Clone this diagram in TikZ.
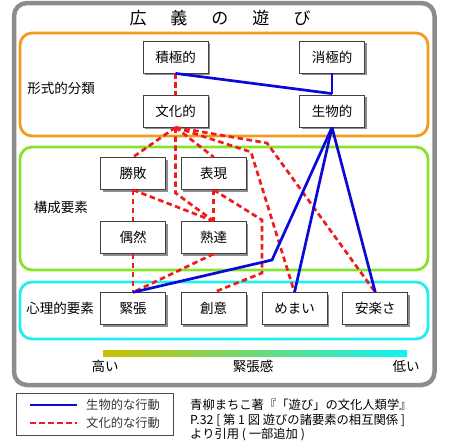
\documentclass[tikz,border=0pt]{standalone}
\usepackage{fontspec}
\setmainfont{Noto Sans CJK JP}
\usetikzlibrary{shadows}
\definecolor{framegray}{HTML}{8C8C8C}
\definecolor{boxorange}{HTML}{F29B1D}
\definecolor{boxgreen}{HTML}{84E32A}
\definecolor{boxcyan}{HTML}{22EEF0}
\definecolor{bioblue}{HTML}{0A0AD8}
\definecolor{culred}{HTML}{EE1C1C}
\definecolor{gradleft}{HTML}{C8C000}
\definecolor{gradright}{HTML}{10F4F4}
\begin{document}
\begin{tikzpicture}[x=1pt,y=-1pt,
  box/.style={draw=black!75, line width=0.8pt, fill=white, minimum width=65pt, minimum height=32pt, inner sep=0pt,
    font=\fontsize{13.5}{15}\selectfont,
    drop shadow={shadow xshift=2pt, shadow yshift=-2pt, fill=black, opacity=0.45}},
  bio/.style={draw=bioblue, line width=2.7pt},
  cul/.style={draw=culred, line width=2.7pt, dash pattern=on 5.5pt off 3.5pt},
  lab/.style={font=\fontsize{13.5}{15}\selectfont, inner sep=0pt},
  small/.style={font=\fontsize{12.3}{14.5}\selectfont, inner sep=0pt},
  group/.style={line width=2.8pt, rounded corners=12pt}
]
\useasboundingbox (0,0) rectangle (450,442);
% frames
\draw[draw=framegray, line width=4.5pt, rounded corners=13pt] (14,3) rectangle (434.5,385);
\draw[group, draw=boxorange] (20,33) rectangle (428,136);
\draw[group, draw=boxgreen] (20,147) rectangle (428,270);
\draw[group, draw=boxcyan] (20,282) rectangle (428,339);
% title
\node[inner sep=0pt, font=\fontsize{17}{20}\selectfont] (title) at (220,18) {広\hspace{24pt}義\hspace{24pt}の\hspace{24pt}遊\hspace{24pt}び};
% group labels
\node[lab] (l1) at (61,88) {形式的分類};
\node[lab] (l2) at (61,207) {構成要素};
\node[lab] (l3) at (60,308) {心理的要素};
% nodes
\node[box] (sek) at (175.5,57) {積極的};
\node[box] (sho) at (332,57) {消極的};
\node[box] (bun) at (175.5,111) {文化的};
\node[box] (sei) at (332,111) {生物的};
\node[box] (sho2) at (133,173.5) {勝敗};
\node[box] (hyo) at (213.7,173.5) {表現};
\node[box] (gu) at (133,237.5) {偶然};
\node[box] (juku) at (213.7,237.5) {熟達};
\node[box] (kin) at (133,308.7) {緊張};
\node[box] (so) at (213.7,308.7) {創意};
\node[box] (me) at (294.5,308.7) {めまい};
\node[box] (an) at (375.3,308.7) {安楽さ};
% bend coordinates
\coordinate (c1) at (175.5,193);
\coordinate (c2) at (251,152);
\coordinate (c3) at (267,143);
\coordinate (c4) at (262,220);
\coordinate (c5) at (262,273);
\coordinate (b1) at (272,260);
% cultural (red dashed)
\draw[cul] (sek.south) -- (bun.north);
\draw[cul] (bun.south) -- (sho2.north);
\draw[cul] (bun.south) -- (c1) -- (juku.north);
\draw[cul] (bun.south) -- (hyo.north);
\draw[cul] (bun.south) -- (c2) -- (me.north);
\draw[cul] (bun.south) -- (c3) -- (an.north);
\draw[cul] (sho2.south) -- (gu.north);
\draw[cul] (sho2.south) -- (juku.north);
\draw[cul] (hyo.south) -- (juku.north);
\draw[cul] (hyo.south) -- (c4) -- (c5) -- (so.north);
\draw[cul] (gu.south) -- (kin.north);
\draw[cul] (juku.south) -- (kin.north);
% biological (blue)
\draw[bio] (sek.south) -- ([yshift=1pt]sei.north);
\draw[bio] (sho.south) -- ([yshift=1pt]sei.north);
\draw[bio] (sei.south) -- (me.north);
\draw[bio] (sei.south) -- (an.north);
\draw[bio] (sei.south) -- (b1) -- (kin.north);
% gradient scale
\shade[left color=gradleft, right color=gradright] (103,350) rectangle (407,356);
\node[lab] (hi) at (105,366) {高い};
\node[lab] (kc) at (253,366) {緊張感};
\node[lab] (lo) at (406,366) {低い};
% legend
\node[draw=black!70, line width=0.8pt, minimum width=157pt, minimum height=42pt, inner sep=0pt] (leg) at (94.5,414.5) {};
\coordinate (lb1) at (30,405);
\coordinate (lb2) at (77,405);
\coordinate (lr1) at (30,423);
\coordinate (lr2) at (77,423);
\draw[bio] (lb1) -- (lb2);
\draw[cul] (lr1) -- (lr2);
\node[small, anchor=west, text=black!80] (legb) at (86,405) {生物的な行動};
\node[small, anchor=west, text=black!80] (legr) at (86,423) {文化的な行動};
% citation
\node[small, anchor=north west, align=left] (cite) at (190,399) {青柳まちこ著『「遊び」の文化人類学』\\P.32 [ 第 1 図 遊びの諸要素の相互関係 ]\\より引用 ( 一部追加 )};
\end{tikzpicture}
\end{document}
